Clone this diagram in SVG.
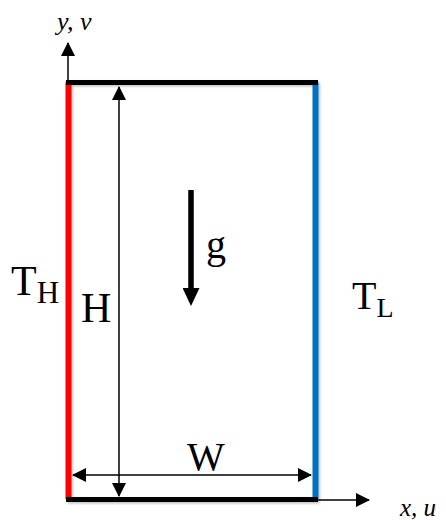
<svg xmlns="http://www.w3.org/2000/svg" width="446" height="520" viewBox="0 0 446 520">
<style>
.t{font-family:"Liberation Serif","Times New Roman",serif;fill:#000}
.ax{stroke:#000;stroke-width:1.5;fill:none}
</style>
<defs>
<marker id="ah" viewBox="0 0 14 14" refX="13" refY="7" markerWidth="14" markerHeight="14" markerUnits="userSpaceOnUse" orient="auto-start-reverse">
<path d="M0,0 L14,7 L0,14 Z" fill="#000"/>
</marker>
<marker id="ahg" viewBox="0 0 18 17" refX="4" refY="8.5" markerWidth="18" markerHeight="17" markerUnits="userSpaceOnUse" orient="auto">
<path d="M0,0 L18,8.5 L0,17 Z" fill="#000"/>
</marker>
<filter id="sh" x="-20%" y="-5%" width="140%" height="110%">
<feDropShadow dx="1.5" dy="1.5" stdDeviation="1" flood-color="#000" flood-opacity="0.25"/>
</filter>
</defs>
<g id="walls" filter="url(#sh)">
<line x1="68.5" y1="82" x2="68.5" y2="499" stroke="#ff0000" stroke-width="6"/>
<line x1="315.5" y1="83" x2="315.5" y2="499" stroke="#0070c0" stroke-width="6"/>
<line x1="66" y1="82.5" x2="318" y2="82.5" stroke="#000" stroke-width="5"/>
<line x1="66" y1="499.5" x2="318" y2="499.5" stroke="#000" stroke-width="5"/>
</g>
<g id="connectors">
<line class="ax" x1="68" y1="83" x2="68" y2="43" marker-end="url(#ah)"/>
<line class="ax" x1="318" y1="500" x2="369" y2="500" marker-end="url(#ah)"/>
<line class="ax" x1="119" y1="87" x2="119" y2="496" marker-start="url(#ah)" marker-end="url(#ah)"/>
<line class="ax" x1="73" y1="475" x2="311" y2="475" marker-start="url(#ah)" marker-end="url(#ah)"/>
<line x1="191" y1="190" x2="191" y2="292" stroke="#000" stroke-width="5.5" marker-end="url(#ahg)"/>
</g>
<g id="labels">
<text class="t" x="57" y="30" font-size="26" font-style="italic">y, v</text>
<text class="t" x="400" y="516" font-size="25" font-style="italic">x, u</text>
<text class="t" x="81" y="322" font-size="42">H</text>
<text class="t" x="187" y="470" font-size="40">W</text>
<text class="t" x="206" y="258" font-size="40">g</text>
<text class="t" x="11" y="295" font-size="42">T<tspan font-size="31" dy="8">H</tspan></text>
<text class="t" x="352" y="309" font-size="40">T<tspan font-size="28" dy="8">L</tspan></text>
</g>
</svg>
